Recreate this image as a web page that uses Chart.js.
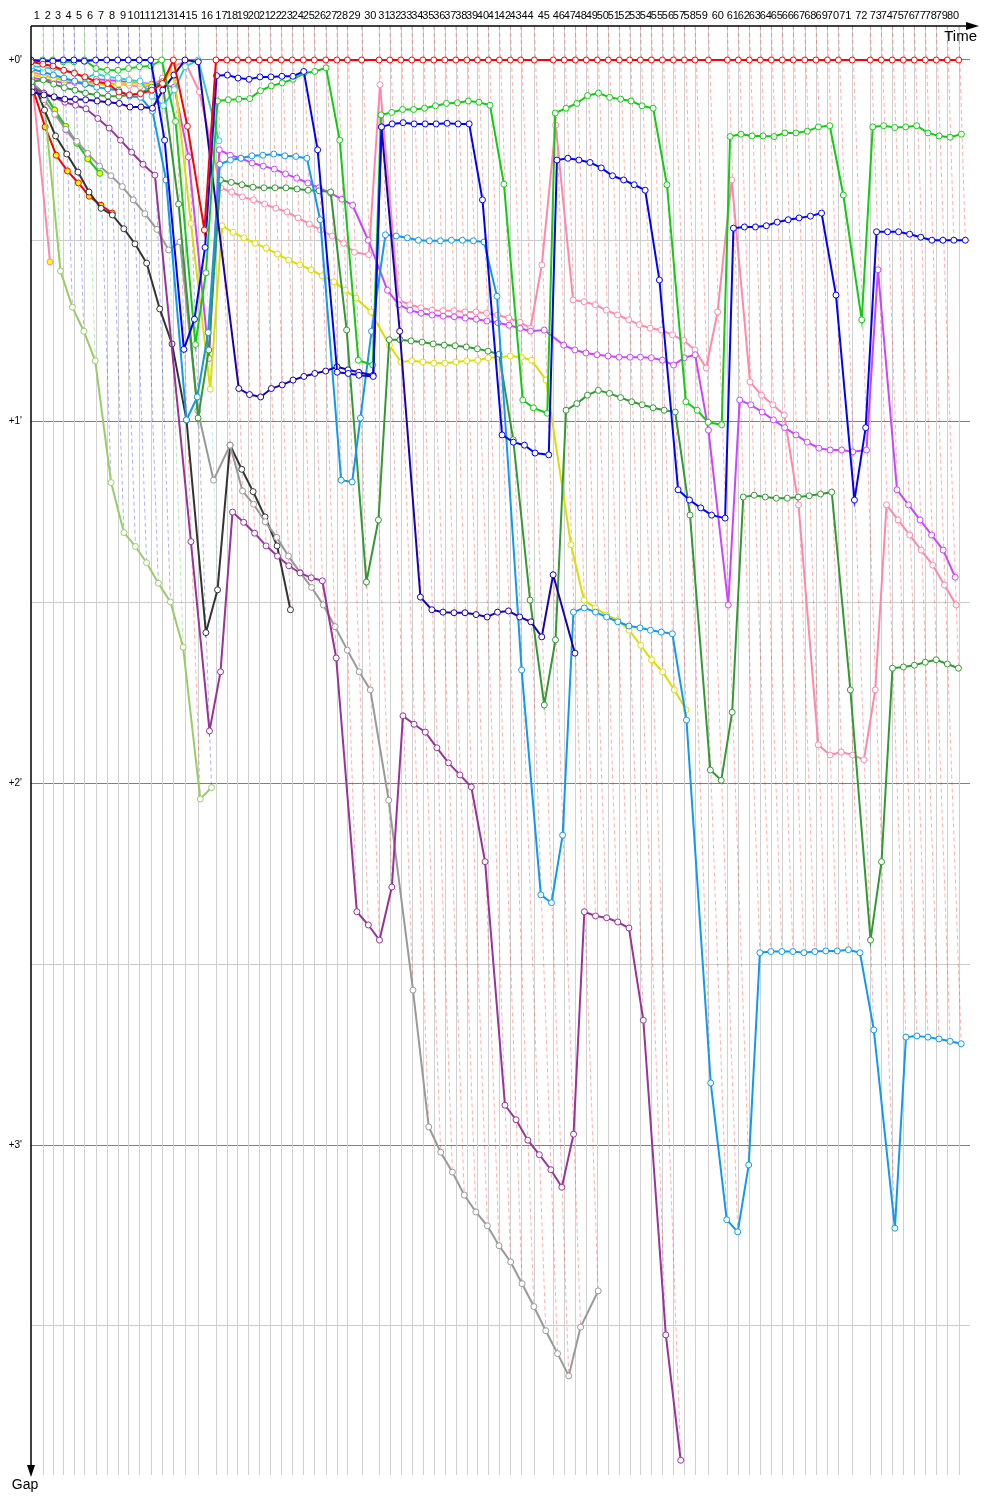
<!DOCTYPE html>
<html><head><meta charset="utf-8">
<script src="https://cdn.jsdelivr.net/npm/chart.js@4.4.1/dist/chart.umd.min.js"></script>
<style>html,body{margin:0;padding:0;background:#fff}canvas{display:block}</style>
</head><body>
<canvas id="c" width="1000" height="1500"></canvas>
<script>
// ---- data ----
const lapLabels = [1,2,3,4,5,6,7,8,9,10,11,12,13,14,15,16,17,18,19,20,21,22,23,24,25,26,27,28,29,30,31,32,33,34,35,36,37,38,39,40,41,42,43,44,45,46,47,48,49,50,51,52,53,54,55,56,57,58,59,60,61,62,63,64,65,66,67,68,69,70,71,72,73,74,75,76,77,78,79,80];
// leader's elapsed time (s) at end of lap 0..80
const leaderTimes = [0,53,99,147,195,242,294,344,394,442,492,544,594,647,700,760,841,890,938,988,1038,1088,1138,1188,1238,1288,1340,1390,1438,1503,1582,1631,1681,1731,1781,1831,1881,1931,1981,2029,2079,2129,2179,2226,2288,2374,2424,2474,2524,2574,2624,2674,2721,2770,2820,2870,2920,2970,3018,3079,3165,3215,3265,3315,3365,3415,3465,3517,3568,3620,3670,3733,3815,3865,3915,3965,4015,4065,4115,4165,4217];
// leader of each lap 1..80
const lapLeader = ['greenA','greenA','blueA','blueA','greenA','blueA','blueA','blueA','blueA','blueA','blueA','greenA','redA','navy','turq',
 'redA','redA','redA','redA','redA','redA','redA','redA','redA','redA','redA','redA','redA','redA','redA','redA','redA','redA','redA','redA','redA','redA','redA','redA','redA','redA','redA','redA','redA','redA','redA','redA','redA','redA','redA','redA','redA','redA','redA','redA','redA','redA','redA','redA','redA','redA','redA','redA','redA','redA','redA','redA','redA','redA','redA','redA','redA','redA','redA','redA','redA','redA','redA','redA','redA'];
const yTicks = [0,30,60,90,120,150,180,210];
const yTickLabels = {0:"+0'",60:"+1'",120:"+2'",180:"+3'"};

// gaps to leader (s), index = lap 0..80
const gapsRedA = [0.3,0.7,1.0,1.7,2.2,2.8,3.6,3.9,5.3,5.8,5.6,5.0,3.9,0,11.0,28.2,0,0,0,0,0,0,0,0,0,0,0,0,0,0,0,0,0,0,0,0,0,0,0,0,0,0,0,0,0,0,0,0,0,0,0,0,0,0,0,0,0,0,0,0,0,0,0,0,0,0,0,0,0,0,0,0,0,0,0,0,0,0,0,0,0];
const gapsRedB = [4.3,11.1,15.8,18.4,20.4,22.6,24.1,25.4];
const gapsBlueA = [0,0.2,0.2,0,0,0.2,0,0,0,0,0,0,13.3,48.0,43.0,31.1,2.6,2.5,3.0,3.2,2.8,2.8,2.7,2.7,1.9,14.9,51.8,52.0,52.3,52.5,11.1,10.6,10.4,10.6,10.6,10.6,10.5,10.6,10.6,23.2,62.2,63.4,63.9,65.2,65.5,16.6,16.3,16.6,17.0,17.9,19.2,19.9,20.7,21.6,36.5,71.3,73.0,74.3,75.5,76.0,27.9,27.7,27.7,27.5,26.9,26.5,26.2,25.9,25.4,39.0,73.0,61.0,28.5,28.5,28.5,28.9,29.4,29.9,29.9,29.9,29.9];
const gapsNavy = [5.3,5.8,6.1,6.5,6.5,6.6,6.8,7.0,7.2,7.8,7.8,8.0,5.0,2.5,0,0.3,null,54.5,55.5,55.9,54.5,53.9,53.1,52.5,52.0,51.6,50.9,51.4,51.8,52.3,11.1,45.0,89.1,91.2,91.6,91.7,91.7,92.0,92.4,91.6,91.4,92.4,93.2,95.7,85.4,98.4];
const gapsGreenA = [0.3,0,0,0.3,0.3,0,1.4,1.7,1.7,1.4,1.1,1.0,0,10.2,47.2,35.3,6.8,6.6,6.5,6.4,5.1,4.3,3.8,3.2,2.2,1.9,1.3,13.3,49.8,50.6,9.1,8.7,8.2,8.2,8.0,7.6,7.2,7.1,6.8,7.0,7.5,20.6,56.4,57.7,58.6,8.8,8.0,7.2,5.9,5.5,6.2,6.5,6.8,7.6,8.0,20.7,56.7,58.1,60.1,60.5,12.7,12.3,12.6,12.6,12.7,12.1,12.1,11.8,11.1,10.9,22.4,43.1,11.1,10.9,11.2,11.1,10.9,12.1,12.6,12.8,12.3];
const gapsDarkGreen = [3.6,3.3,4.0,4.6,5.0,5.5,5.8,6.0,6.0,5.8,5.5,4.5,3.6,23.9,59.4,48.1,19.9,20.3,20.7,21.1,21.2,21.2,21.2,21.4,21.6,21.7,21.9,44.8,86.6,76.3,46.4,46.4,46.6,46.8,47.1,47.3,47.4,47.6,47.9,48.3,48.8,63.0,89.6,107.0,96.2,58.1,57.0,55.6,54.8,55.3,56.0,56.7,57.2,57.7,58.1,58.4,75.5,117.8,119.5,108.2,72.5,72.2,72.5,72.7,72.7,72.5,72.3,72.0,71.7,104.5,146.0,133.0,100.9,100.7,100.4,99.9,99.5,100.2,100.9];
const gapsLightBlue = [1.5,2.0,2.5,3.0,3.5,4.0,4.5,4.8,5.0,6.0,6.2,8.5,19.9,59.7,55.9,45.2,17.3,16.6,16.3,15.9,15.8,15.6,15.9,16.0,16.3,26.5,69.7,70.0,59.4,45.0,29.0,29.2,29.5,29.9,30.0,30.0,29.9,29.9,30.0,30.2,39.2,101.2,138.5,139.8,128.6,91.6,90.9,91.6,92.4,93.2,93.9,94.2,94.6,94.9,95.2,109.5,169.7,192.4,194.4,183.3,148.1,147.9,147.9,147.9,148.1,147.9,147.8,147.8,147.6,148.1,160.9,193.8,162.1,161.9,162.1,162.4,162.8,163.2];
const gapsTurq = [1.0,1.2,1.4,1.8,2.1,3.0,2.3,2.8,3.0,3.3,3.5,6.0,7.6,4.9,1.1,0,13.4];
const gapsYellow = [2.5,2.8,3.0,3.3,3.5,3.8,4.0,4.2,4.0,3.8,3.9,4.2,3.9,1.4,27.1,54.6,27.5,28.6,29.5,30.4,31.2,32.2,33.2,34.0,34.8,35.8,36.8,38.2,39.5,41.8,47.3,50.1,49.9,50.1,50.3,50.3,50.1,49.9,49.8,49.4,49.3,49.1,49.3,49.8,53.1,80.4,89.6,90.9,92.1,92.9,94.6,97.1,99.5,101.5,104.5,107.8];
const gapsPinkA = [2.0,2.5,3.0,3.3,3.5,3.8,3.8,3.9,4.0,4.2,4.4,4.4,3.0,1.0,0.3,5.3,21.2,21.9,22.7,23.2,23.9,24.6,25.2,26.2,27.2,28.2,29.2,30.4,31.9,32.3,4.1,39.8,40.6,41.1,41.5,41.6,41.6,41.8,41.8,42.0,42.3,42.8,43.5,44.5,34.0,10.8,39.8,40.1,40.6,41.5,42.3,43.1,43.9,44.5,44.8,45.6,46.5,48.1,51.1,41.8,19.9,53.4,55.6,57.2,58.9,73.8,113.6,115.3,114.8,115.3,116.1,104.5,73.8,76.3,78.8,81.3,83.8,87.1,90.4];
const gapsPinkB = [2.2,33.5];
const gapsMagenta = [3.0,3.2,3.5,3.8,3.7,4.0,3.2,3.3,3.5,3.7,3.8,4.0,4.2,4.5,16.1,49.5,14.9,15.8,16.3,17.1,17.6,18.1,18.9,19.6,20.4,21.2,22.1,23.1,24.1,29.9,38.2,40.6,41.5,42.0,42.3,42.5,42.6,42.8,43.0,43.3,43.6,44.0,44.5,45.0,44.8,47.3,48.1,48.6,48.9,49.1,49.3,49.3,49.3,49.4,49.8,50.6,49.4,48.9,61.4,90.4,56.4,57.2,58.4,59.7,61.0,62.2,63.4,64.4,64.7,64.7,65.0,64.7,34.8,71.3,73.8,76.3,78.8,81.3,85.8];
const gapsMagentaB = [3.9,5.6,8.3,11.6,13.8];
const gapsGreenB = [3.8,5.5,8.3,11.0,13.8,16.4,18.8];
const gapsPurple = [4.5,5.5,6.2,7.0,7.5,8.1,9.7,11.3,13.3,15.3,17.3,19.1,null,79.9,111.3,101.5,75.0,76.7,78.5,80.6,82.3,83.9,85.1,85.9,86.4,99.2,141.3,143.5,146.0,137.2,108.8,110.2,111.5,114.1,116.6,118.6,120.6,133.0,173.4,175.8,179.2,181.6,184.1,187.0,178.2,141.3,142.0,142.3,143.0,144.0,159.3,211.5,232.3];
const gapsGrey = [3.3,6.6,9.0,11.5,13.5,15.5,17.6,19.2,21.0,23.2,25.5,28.1,31.5,30.2,58.2,69.7,63.9,71.5,73.7,76.6,79.2,82.3,85.0,87.5,90.4,94.0,97.9,101.5,104.5,122.8,154.3,177.0,181.2,184.5,188.3,191.1,193.4,196.7,199.4,203.0,206.8,210.8,214.6,218.3,210.2,204.2];
const gapsBlack = [2.8,8.3,12.6,15.6,18.6,21.9,24.6,25.7,28.0,30.5,33.7,41.3,47.1,59.7,95.0,87.9,63.9,67.9,71.6,75.8,80.6,91.2];
const gapsYellowGreen = [4.0,7.0,35.0,41.0,45.0,49.9,70.1,78.4,80.7,83.4,86.8,89.9,97.4,122.6,120.7];

// ---- styling ----
const series = [
  {key:'redA', gaps:gapsRedA, color:'#ff0000', fill:'#ffffff'},
  {key:'blueA', gaps:gapsBlueA, color:'#0000ff', fill:'#ffffff'},
  {key:'greenA', gaps:gapsGreenA, color:'#11cc11', fill:'#ffffff'},
  {key:'navy', gaps:gapsNavy, color:'#1a00b0', fill:'#ffffff'},
  {key:'turq', gaps:gapsTurq, color:'#33cccc', fill:'#ffffff'},
  {key:'lightBlue', gaps:gapsLightBlue, color:'#1199ee', fill:'#ffffff'},
  {key:'darkGreen', gaps:gapsDarkGreen, color:'#339933', fill:'#ffffff'},
  {key:'yellow', gaps:gapsYellow, color:'#dddd00', fill:'#ffffff'},
  {key:'magenta', gaps:gapsMagenta, color:'#cc44ff', fill:'#ffffff'},
  {key:'pinkA', gaps:gapsPinkA, color:'#ff88aa', fill:'#ffffff'},
  {key:'purple', gaps:gapsPurple, color:'#993399', fill:'#ffffff'},
  {key:'grey', gaps:gapsGrey, color:'#999999', fill:'#ffffff'},
  {key:'black', gaps:gapsBlack, color:'#333333', fill:'#ffffff'},
  {key:'yellowGreen', gaps:gapsYellowGreen, color:'#99cc66', fill:'#ffffff'},
  {key:'redB', gaps:gapsRedB, color:'#ff0000', fill:'#ffff00'},
  {key:'greenB', gaps:gapsGreenB, color:'#11cc11', fill:'#ffff00'},
  {key:'magentaB', gaps:gapsMagentaB, color:'#cc44ff', fill:'#ffff00'},
  {key:'pinkB', gaps:gapsPinkB, color:'#ff88aa', fill:'#ffff00'}
];
const Y_MIN = -5.64, Y_MAX = 234.74, X_MAX = 4268.2;

function rgba(hex,a){const n=parseInt(hex.slice(1),16);return `rgba(${n>>16&255},${n>>8&255},${n&255},${a})`;}
function toPoints(g){const p=[];g.forEach((v,i)=>{if(v!==null&&v!==undefined)p.push({x:leaderTimes[i]+v,y:v});});return p;}
const colorOf = {}; series.forEach(s=>{ if(!colorOf[s.key]) colorOf[s.key]=s.color; });

const datasets = series.map(s=>({
  data: toPoints(s.gaps), borderColor:s.color, backgroundColor:s.color, borderWidth:2,
  pointRadius:3, pointBorderWidth:1, pointBackgroundColor:s.fill, pointBorderColor:s.color,
  pointHoverRadius:3, tension:0, fill:false
}));
// dashed lines from the leader of each lap down to the last car of that lap
for (let n=1;n<leaderTimes.length;n++){
  let m=0; series.forEach(s=>{const v=s.gaps[n]; if(v!=null && v>m) m=v;});
  datasets.push({data:[{x:leaderTimes[n],y:Y_MIN},{x:leaderTimes[n]+m,y:m}],
    borderColor:rgba(colorOf[lapLeader[n-1]],0.32), borderWidth:1, borderDash:[4,3],
    pointRadius:0, fill:false, tension:0});
}

const overlay = {
  id:'overlay',
  beforeDatasetsDraw(chart){
    const {ctx, chartArea:a, scales:{x}} = chart;
    ctx.save(); ctx.strokeStyle='#d0d0d0'; ctx.lineWidth=1;
    for (let n=1;n<leaderTimes.length;n++){
      const px=Math.round(x.getPixelForValue(leaderTimes[n]))+0.5;
      ctx.beginPath(); ctx.moveTo(px,a.top); ctx.lineTo(px,a.bottom); ctx.stroke();
    }
    ctx.restore();
  },
  afterDraw(chart){
    const {ctx, chartArea:a, scales:{x}} = chart;
    ctx.save();
    ctx.strokeStyle='#000'; ctx.fillStyle='#000'; ctx.lineWidth=1.5;
    // top time axis
    ctx.beginPath(); ctx.moveTo(a.left,a.top); ctx.lineTo(a.right+2,a.top); ctx.stroke();
    ctx.beginPath(); ctx.moveTo(a.right-4,a.top-4); ctx.lineTo(a.right+9,a.top); ctx.lineTo(a.right-4,a.top+4); ctx.closePath(); ctx.fill();
    // left gap axis
    ctx.beginPath(); ctx.moveTo(a.left,a.top); ctx.lineTo(a.left,a.bottom-6); ctx.stroke();
    ctx.beginPath(); ctx.moveTo(a.left-4,a.bottom-10); ctx.lineTo(a.left,a.bottom+2); ctx.lineTo(a.left+4,a.bottom-10); ctx.closePath(); ctx.fill();
    // lap labels
    ctx.font='11px "Liberation Sans", Arial, sans-serif'; ctx.textAlign='center'; ctx.textBaseline='middle';
    for (let n=1;n<leaderTimes.length;n++){
      const px=(x.getPixelForValue(leaderTimes[n-1])+x.getPixelForValue(leaderTimes[n]))/2;
      ctx.fillText(String(lapLabels[n-1]),px,16);
    }
    ctx.font='15px "Liberation Sans", Arial, sans-serif'; ctx.textAlign='right'; ctx.textBaseline='alphabetic';
    ctx.fillText('Time',977,41);
    ctx.font='14px "Liberation Sans", Arial, sans-serif'; ctx.textAlign='center';
    ctx.fillText('Gap',25,1489);
    ctx.restore();
  }
};

new Chart(document.getElementById('c'), {
  type:'line',
  data:{datasets},
  options:{
    responsive:false, animation:false, devicePixelRatio:1,
    layout:{padding:{left:0,right:30,top:26,bottom:25}},
    plugins:{legend:{display:false}, tooltip:{enabled:false}},
    events:[],
    scales:{
      x:{type:'linear', min:0, max:X_MAX, display:false},
      y:{type:'linear', reverse:true, min:Y_MIN, max:Y_MAX,
        afterBuildTicks:s=>{s.ticks=yTicks.map(v=>({value:v}));},
        afterFit:s=>{s.width=31;},
        border:{display:false},
        grid:{color:c=>(c.tick && c.tick.value%60===0)?'#808080':'#cccccc', lineWidth:1, drawTicks:false},
        ticks:{padding:9, color:'#000', font:{family:'"Liberation Sans", Arial, sans-serif', size:10},
          callback:v=>yTickLabels[v]!==undefined?yTickLabels[v]:''}
      }
    }
  },
  plugins:[overlay]
});
</script>
</body></html>
